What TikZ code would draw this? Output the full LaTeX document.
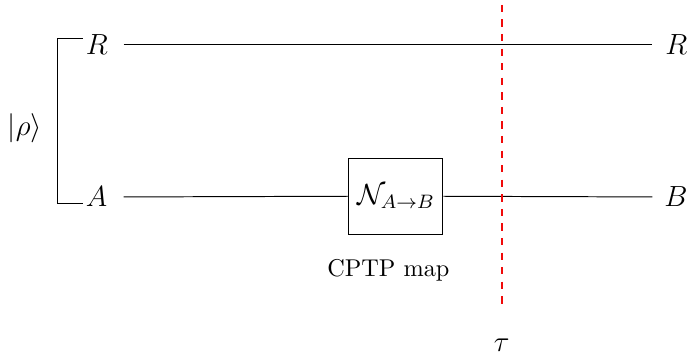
\documentclass[tikz,border=0pt]{standalone}
\usepackage{amsmath}
\definecolor{cutred}{RGB}{240,10,10}

\begin{document}
\begin{tikzpicture}[line width=0.4pt]
  \useasboundingbox (0,0) rectangle (10,5.21);
  \tikzset{wirelabel/.style={font=\large,inner sep=1pt}}
  % wire labels
  \node[wirelabel,anchor=west] (R) at (1.20,4.56) {$R$};
  \node[wirelabel,anchor=west] (A) at (1.20,2.36) {$A$};
  \node[wirelabel,anchor=east] (Rout) at (9.99,4.56) {$R$};
  \node[wirelabel,anchor=east] (B) at (9.99,2.36) {$B$};
  \node[font=\large] (rho) at (0.36,3.36) {$|\rho\rangle$};
  % channel
  \node[draw,font=\large,minimum width=1.36cm,minimum height=1.1cm] (N) at (5.73,2.37) {$\mathcal{N}_{A\to B}$};
  \node (cptp) at (5.62,1.30) {CPTP map};
  % bracket
  \coordinate (bt) at (0.825,4.66);
  \coordinate (bb) at (0.825,2.27);
  \draw (R.west |- bt) -- (bt) -- (bb) -- (A.west |- bb);
  % wires
  \coordinate (Rs) at (1.79,4.56);
  \coordinate (Re) at (9.44,4.56);
  \coordinate (As) at (1.79,2.36);
  \coordinate (Be) at (9.44,2.36);
  \draw (Rs) -- (Re);
  \draw (As) -- (N.west);
  \draw (N.east) -- (Be);
  % cut
  \coordinate (ct) at (7.26,5.14);
  \coordinate (cb) at (7.26,0.80);
  \draw[cutred,dashed,line width=0.9pt] (ct) -- (cb);
  \node[font=\large] (tau) at (7.26,0.22) {$\tau$};
\end{tikzpicture}
\end{document}
